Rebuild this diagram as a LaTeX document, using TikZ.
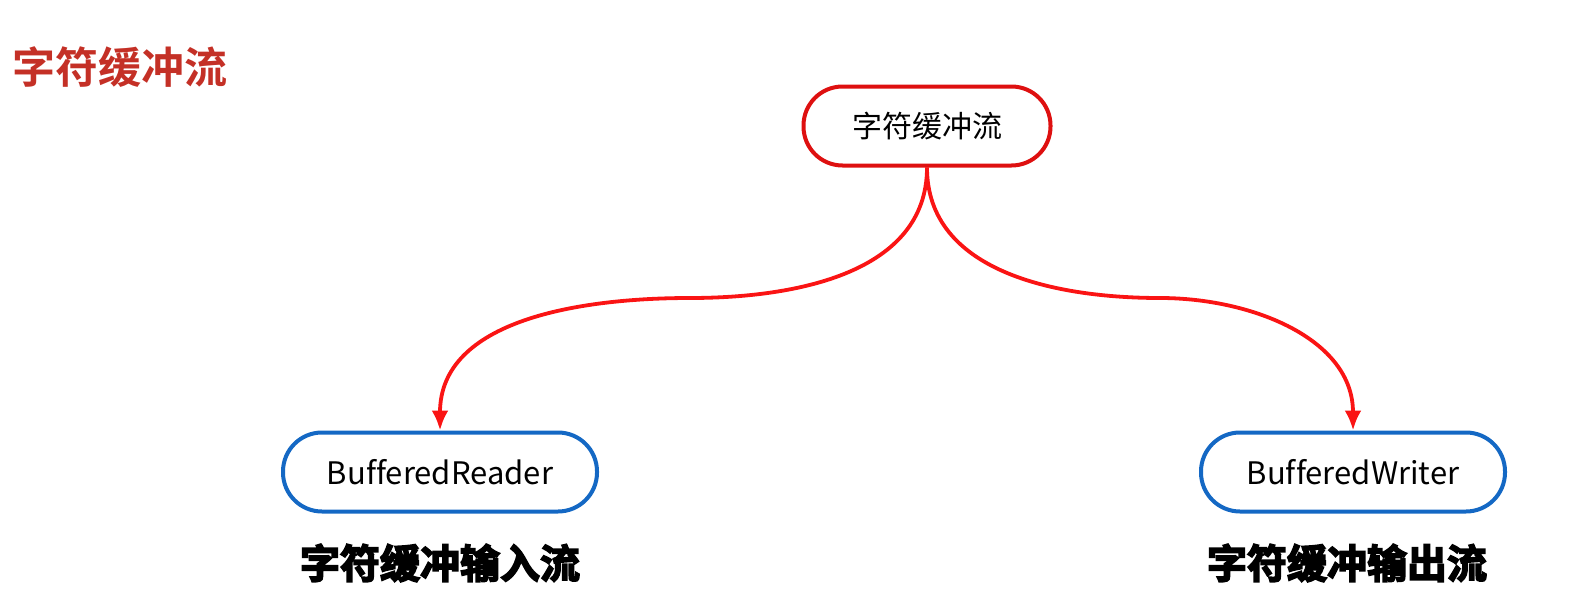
\documentclass[tikz,border=0pt]{standalone}
\usepackage{fontspec}
\setmainfont{Noto Sans CJK SC}
\newfontfamily\cjk[Ligatures=NoCommon]{Noto Sans CJK SC}
\newfontfamily\cjkbold[FakeBold=4]{Noto Sans CJK SC Bold}
\newfontfamily\cjktitle{Noto Sans CJK SC Bold}
\usetikzlibrary{arrows.meta}
\definecolor{titlered}{RGB}{196,48,38}
\definecolor{boxred}{RGB}{222,16,16}
\definecolor{arrred}{RGB}{250,20,20}
\definecolor{boxblue}{RGB}{20,104,196}
\tikzset{
  pill/.style={draw, line width=4pt, rounded corners=39pt, minimum height=79pt, inner sep=0pt, font=\cjk\fontsize{31}{33}\selectfont, fill=white},
  redpill/.style={pill, draw=boxred},
  bluepill/.style={pill, draw=boxblue},
  conn/.style={draw=arrred, line width=3.8pt, -{Latex[length=20pt,width=17pt]}},
  caption/.style={font=\cjkbold\fontsize{40}{42}\selectfont, text=black},
}
\begin{document}
\begin{tikzpicture}[x=1pt,y=-1pt]
\useasboundingbox (0,0) rectangle (1591,605);
\node[anchor=west, text=titlered, font=\cjktitle\fontsize{43}{45}\selectfont, inner sep=0pt] (title) at (12,67) {字符缓冲流};
\node[redpill, minimum width=247pt, font=\cjk\fontsize{30}{32}\selectfont] (top) at (927,126) {字符缓冲流};
\node[bluepill, minimum width=314pt] (left) at (440,472) {BufferedReader};
\node[bluepill, minimum width=304pt] (right) at (1353,472) {BufferedWriter};
\node[caption] (lcap) at (440,563) {字符缓冲输入流};
\node[caption] (rcap) at (1347,563) {字符缓冲输出流};
\coordinate (lmid) at (690,298);
\coordinate (rmid) at (1160,298);
\draw[conn] (top.south) to[out=-90,in=0] (lmid) to[out=180,in=90] (left.north);
\draw[conn] (top.south) to[out=-90,in=180] (rmid) to[out=0,in=90] (right.north);
\end{tikzpicture}
\end{document}
